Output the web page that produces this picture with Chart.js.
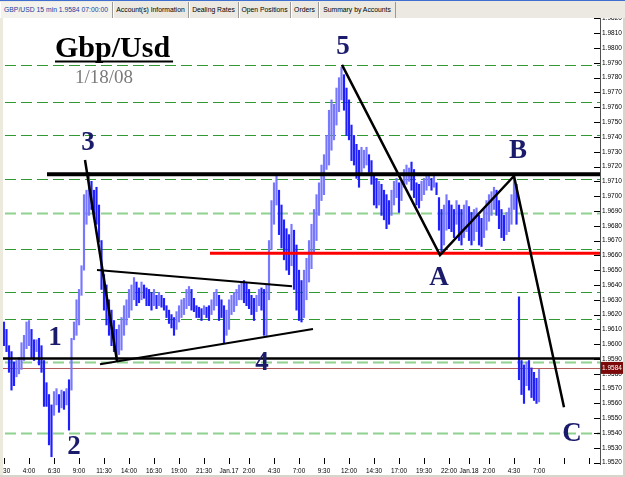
<!DOCTYPE html>
<html><head><meta charset="utf-8">
<script src="https://cdn.jsdelivr.net/npm/chart.js@4/dist/chart.umd.min.js"></script>
<style>
html,body{margin:0;padding:0;background:#fff;width:625px;height:477px;overflow:hidden;position:relative;}
#tabs{position:absolute;left:0;top:0;width:625px;height:18px;background:#ebe9e1;border-top:1px solid #3f6fcf;box-sizing:border-box;font:6.8px "Liberation Sans",Arial,sans-serif;}
.tab{position:absolute;top:1px;height:16px;line-height:15px;text-align:center;border-right:1px solid #9a9a9a;box-shadow:inset 1px 0 0 #fff;box-sizing:border-box;color:#000;white-space:nowrap;}
.tab.active{color:#1b3c9f;background:#f3f2ec;}
#wrap{position:absolute;left:0;top:18px;width:625px;height:459px;}
#lb{position:absolute;left:0;top:18px;width:3px;height:459px;background:#ece9dd;}
#rb{position:absolute;right:0;top:18px;width:2px;height:459px;background:#d8d5cc;}
#bb{position:absolute;left:0;bottom:0;width:625px;height:2px;background:#d8d5cc;}
</style></head>
<body>
<div id="tabs">
  <div class="tab active" style="left:0;width:113px">GBP/USD 15 min 1.9584 07:00:00</div>
  <div class="tab" style="left:113px;width:76px">Account(s) Information</div>
  <div class="tab" style="left:189px;width:50px">Dealing Rates</div>
  <div class="tab" style="left:239px;width:52px">Open Positions</div>
  <div class="tab" style="left:291px;width:28px">Orders</div>
  <div class="tab" style="left:319px;width:77px">Summary by Accounts</div>
</div>
<div id="wrap"><canvas id="c" width="625" height="459"></canvas></div>
<div id="lb"></div><div id="rb"></div><div id="bb"></div>
<script>
// ---- data: 15-minute bars, GBP/USD, from Jan 16 01:30 to Jan 18 07:00 ----
const highs = [
1.9615,1.9610,1.9599,1.9595,1.9588,1.9589,1.9591,1.9601,1.9606,1.9615,
1.9616,1.9610,1.9603,1.9603,1.9604,1.9599,1.9589,1.9574,1.9566,1.9559,
1.9568,1.9570,1.9566,1.9569,1.9568,1.9570,1.9576,1.9604,1.9615,1.9630,
1.9637,1.9653,1.9701,1.9704,1.9716,1.9710,1.9704,1.9706,1.9694,1.9670,
1.9647,1.9640,1.9630,1.9623,1.9616,1.9610,1.9613,1.9618,1.9626,1.9630,
1.9637,1.9640,1.9645,1.9642,1.9638,1.9642,1.9640,1.9638,1.9637,1.9635,
1.9637,1.9633,1.9635,1.9633,1.9631,1.9626,1.9623,1.9620,1.9618,1.9622,
1.9626,1.9630,1.9631,1.9637,1.9639,1.9637,1.9631,1.9626,1.9625,1.9624,
1.9626,1.9625,1.9626,1.9630,1.9635,1.9637,1.9633,1.9630,1.9626,1.9623,
1.9630,1.9633,1.9635,1.9637,1.9640,1.9642,1.9643,1.9641,1.9637,1.9633,
1.9631,1.9633,1.9637,1.9638,1.9637,1.9640,1.9670,1.9697,1.9709,1.9715,
1.9704,1.9694,1.9684,1.9678,1.9674,1.9681,1.9677,1.9667,1.9650,1.9643,
1.9650,1.9658,1.9670,1.9681,1.9691,1.9701,1.9709,1.9721,1.9728,1.9741,
1.9758,1.9765,1.9762,1.9773,1.9780,1.9787,1.9782,1.9773,1.9765,1.9748,
1.9741,1.9735,1.9731,1.9733,1.9731,1.9733,1.9728,1.9724,1.9714,1.9712,
1.9710,1.9708,1.9704,1.9701,1.9697,1.9704,1.9710,1.9712,1.9709,1.9710,
1.9718,1.9721,1.9719,1.9723,1.9718,1.9709,1.9708,1.9710,1.9712,1.9714,
1.9714,1.9712,1.9714,1.9709,1.9699,1.9691,1.9694,1.9701,1.9697,1.9694,
1.9691,1.9697,1.9694,1.9691,1.9694,1.9697,1.9693,1.9689,1.9691,1.9692,
1.9687,1.9685,1.9691,1.9697,1.9701,1.9703,1.9706,1.9704,1.9697,1.9691,
1.9687,1.9689,1.9692,1.9701,1.9713,1.9708,1.9632,1.9589,1.9586,1.9588,
1.9589,1.9584,1.9581,1.9577,1.9583];
const lows = [
1.9599,1.9595,1.9581,1.9569,1.9572,1.9578,1.9580,1.9583,1.9589,1.9597,
1.9599,1.9591,1.9589,1.9595,1.9586,1.9581,1.9558,1.9558,1.9532,1.9524,
1.9552,1.9559,1.9554,1.9557,1.9556,1.9559,1.9542,1.9569,1.9603,1.9606,
1.9613,1.9633,1.9650,1.9681,1.9687,1.9691,1.9685,1.9681,1.9669,1.9637,
1.9623,1.9613,1.9606,1.9599,1.9595,1.9591,1.9593,1.9596,1.9606,1.9613,
1.9618,1.9623,1.9630,1.9626,1.9628,1.9630,1.9631,1.9626,1.9626,1.9623,
1.9626,1.9624,1.9626,1.9625,1.9623,1.9618,1.9614,1.9611,1.9606,1.9610,
1.9615,1.9618,1.9620,1.9624,1.9626,1.9623,1.9622,1.9618,1.9618,1.9616,
1.9620,1.9618,1.9616,1.9620,1.9623,1.9626,1.9616,1.9618,1.9601,1.9606,
1.9610,1.9620,1.9622,1.9626,1.9630,1.9630,1.9628,1.9626,1.9624,1.9620,
1.9616,1.9622,1.9626,1.9623,1.9606,1.9605,1.9630,1.9664,1.9681,1.9694,
1.9674,1.9665,1.9657,1.9650,1.9647,1.9653,1.9637,1.9623,1.9616,1.9615,
1.9618,1.9630,1.9642,1.9651,1.9662,1.9670,1.9687,1.9697,1.9701,1.9718,
1.9721,1.9731,1.9738,1.9748,1.9757,1.9765,1.9758,1.9741,1.9738,1.9724,
1.9721,1.9712,1.9706,1.9716,1.9719,1.9721,1.9716,1.9708,1.9694,1.9692,
1.9694,1.9687,1.9684,1.9678,1.9681,1.9687,1.9694,1.9699,1.9689,1.9697,
1.9706,1.9708,1.9710,1.9704,1.9699,1.9694,1.9692,1.9697,1.9701,1.9704,
1.9707,1.9704,1.9706,1.9701,1.9677,1.9662,1.9667,1.9677,1.9678,1.9676,
1.9672,1.9681,1.9670,1.9667,1.9672,1.9676,1.9670,1.9667,1.9670,1.9676,
1.9667,1.9666,1.9672,1.9677,1.9683,1.9687,1.9691,1.9687,1.9678,1.9672,
1.9670,1.9674,1.9676,1.9681,1.9691,1.9681,1.9576,1.9566,1.9560,1.9572,
1.9569,1.9564,1.9562,1.9560,1.9561];

// time axis: bar index of each labelled tick and its label
const tickBars   = [0,10,20,30,40,50,60,70,80,90,98,108,118,128,138,148,158,168,178,186,194,204,214,224,234];
const tickLabels = ['1:30','4:00','6:30','9:00','11:30','14:00','16:30','19:00','21:30','Jan.17','2:00','4:30','7:00',
                    '9:30','12:00','14:30','17:00','19:30','22:00','Jan.18','2:00','4:30','7:00','',''];
// price axis ticks
const priceTicks = [];
for (let k = 0; k <= 30; k++) priceTicks.push(+(1.952 + k * 0.001).toFixed(4));

// studies drawn on the chart (price levels)
const fibLevels = [1.97886,1.97638,1.97413,1.97115,1.96884,1.96640,1.96350,1.96168,1.95877,1.95401];
const fibLight  = [false,false,false,false,true,false,false,false,true,true];
const resistancePrice = 1.97147, resistanceFrom = 17.2;
const supportPrice = 1.95903;
const redPrice = 1.96615, redFrom = 82.4;
const lastPrice = 1.9584;
// trend lines (bar index, price)
const wave3Line  = [[32.4,1.97244],[45.2,1.95886]];
const triUpper   = [[37.2,1.96501],[115.2,1.96392]];
const triLower   = [[38.4,1.95865],[123.6,1.96102]];
const abcLine    = [[135.2,1.97886],[174.4,1.96602],[204,1.97136],[224,1.95575]];
// wave labels
const waveLabels      = ['1','2','3','4','5','A','B','C'];
const waveLabelBars   = [20.4,28,33.6,103.2,135.6,174,205.6,227.2];
const waveLabelPrices = [1.96048,1.95311,1.97366,1.95879,1.98014,1.96453,1.97312,1.95399];

const annot = {
  id: 'annot',
  beforeDatasetsDraw(chart) {
    const {ctx, chartArea: a, scales: {x, y}} = chart;
    ctx.save();
    ctx.beginPath(); ctx.rect(a.left, a.top, a.right - a.left, a.bottom - a.top); ctx.clip();
    fibLevels.forEach((p, k) => {
      const py = Math.round(y.getPixelForValue(p)) + 0.5;
      ctx.beginPath();
      ctx.setLineDash([11, 5]);
      ctx.strokeStyle = fibLight[k] ? '#8fd18f' : '#2f9a2f';
      ctx.lineWidth = fibLight[k] ? 2 : 1;
      ctx.moveTo(5, py); ctx.lineTo(a.right, py); ctx.stroke();
    });
    ctx.setLineDash([]);
    const lp = Math.round(y.getPixelForValue(lastPrice)) + 0.5;
    ctx.strokeStyle = '#b35a5a'; ctx.lineWidth = 1;
    ctx.beginPath(); ctx.moveTo(a.left, lp); ctx.lineTo(a.right, lp); ctx.stroke();
    ctx.restore();
  },
  afterDatasetsDraw(chart) {
    const {ctx, chartArea: a, scales: {x, y}} = chart;
    ctx.save();
    ctx.beginPath(); ctx.rect(a.left, a.top, a.right - a.left, a.bottom - a.top); ctx.clip();
    const hline = (from, p, w, col) => {
      const py = y.getPixelForValue(p);
      ctx.beginPath(); ctx.strokeStyle = col; ctx.lineWidth = w;
      ctx.moveTo(from === null ? a.left : x.getPixelForValue(from), py); ctx.lineTo(a.right, py); ctx.stroke();
    };
    hline(resistanceFrom, resistancePrice, 4, '#000');
    hline(null, supportPrice, 2.5, '#000');
    hline(redFrom, redPrice, 3, '#ff0000');
    const poly = (pts, w) => {
      ctx.beginPath(); ctx.strokeStyle = '#000'; ctx.lineWidth = w; ctx.lineJoin = 'miter';
      pts.forEach(([b, p], k) => {
        const px = x.getPixelForValue(b), py = y.getPixelForValue(p);
        k ? ctx.lineTo(px, py) : ctx.moveTo(px, py);
      });
      ctx.stroke();
    };
    poly(wave3Line, 2.5); poly(triUpper, 2); poly(triLower, 2); poly(abcLine, 2.5);
    ctx.fillStyle = '#1b1b6b';
    ctx.font = 'bold 27px "Liberation Serif", "Times New Roman", serif';
    ctx.textAlign = 'center'; ctx.textBaseline = 'middle';
    waveLabels.forEach((t, k) => {
      ctx.fillText(t, x.getPixelForValue(waveLabelBars[k]), y.getPixelForValue(waveLabelPrices[k]) + 1);
    });
    // heading
    ctx.textAlign = 'left'; ctx.textBaseline = 'alphabetic';
    ctx.fillStyle = '#000';
    ctx.font = 'bold 30px "Liberation Serif", "Times New Roman", serif';
    ctx.fillText('Gbp/Usd', 55, 39);
    const w = ctx.measureText('Gbp/Usd').width;
    ctx.fillRect(55, 42.5, w + 3, 2);
    ctx.fillStyle = '#7a7a7a';
    ctx.font = '19px "Liberation Serif", "Times New Roman", serif';
    ctx.fillText('1/18/08', 75, 65);
    ctx.restore();
    // axis tick marks inside the plot
    ctx.save();
    ctx.strokeStyle = '#000'; ctx.lineWidth = 1;
    priceTicks.forEach(p => {
      const py = Math.round(y.getPixelForValue(p)) + 0.5;
      ctx.beginPath(); ctx.moveTo(a.right - 6, py); ctx.lineTo(a.right, py); ctx.stroke();
    });
    tickBars.forEach(b => {
      const px = Math.round(x.getPixelForValue(b)) + 0.5;
      if (px > a.right) return;
      ctx.beginPath(); ctx.moveTo(px, a.bottom - 6); ctx.lineTo(px, a.bottom); ctx.stroke();
    });
    ctx.restore();
  },
  afterDraw(chart) {
    const {ctx, chartArea: a, scales: {y}} = chart;
    const py = y.getPixelForValue(lastPrice);
    ctx.save();
    ctx.fillStyle = '#7d0a0a';
    ctx.fillRect(a.right + 1, py - 6, 22, 12);
    ctx.fillStyle = '#fff';
    ctx.font = '6.5px "Liberation Sans", Arial, sans-serif';
    ctx.textAlign = 'left'; ctx.textBaseline = 'middle';
    ctx.fillText(lastPrice.toFixed(4), a.right + 2, py);
    ctx.restore();
  }
};

// candle shade: lighter when the bar's midpoint rose versus the previous bar
const barColor = c => {
  const i = c.dataIndex;
  if (i === 0) return '#2525ff';
  const m = (highs[i] + lows[i]) / 2, pm = (highs[i - 1] + lows[i - 1]) / 2;
  return m >= pm ? '#7878ff' : '#2020ff';
};

new Chart(document.getElementById('c'), {
  type: 'bar',
  data: {
    datasets: [{
      data: highs.map((h, i) => ({x: i, y: [lows[i], h]})),
      backgroundColor: barColor,
      borderWidth: 0,
      barThickness: 1.5,
      grouped: false
    }]
  },
  options: {
    responsive: false,
    animation: false,
    layout: {padding: 0},
    plugins: {legend: {display: false}, tooltip: {enabled: false}},
    scales: {
      x: {
        type: 'linear', min: -1.6, max: 238.4, offset: false,
        afterBuildTicks: s => { s.ticks = tickBars.map(v => ({value: v})); },
        afterFit: s => { s.height = 13; s.paddingLeft = 0; s.paddingRight = 0; },
        ticks: {
          autoSkip: false, maxRotation: 0, padding: 3, color: '#000',
          font: {size: 6.4, family: '"Liberation Sans", Arial, sans-serif'},
          callback: (v, idx) => tickLabels[idx]
        },
        grid: {display: false, drawTicks: false},
        border: {display: false}
      },
      y: {
        position: 'right', min: 1.95191, max: 1.98203,
        afterBuildTicks: s => { s.ticks = priceTicks.map(v => ({value: v})); },
        afterFit: s => { s.width = 25; s.paddingTop = 0; s.paddingBottom = 0; },
        ticks: {
          autoSkip: false, padding: 2, color: '#000',
          font: {size: 6.5, family: '"Liberation Sans", Arial, sans-serif'},
          callback: v => (+v).toFixed(4)
        },
        grid: {display: false, drawTicks: false},
        border: {display: true, color: '#505050', width: 1}
      }
    }
  },
  plugins: [annot]
});
</script>
</body></html>
